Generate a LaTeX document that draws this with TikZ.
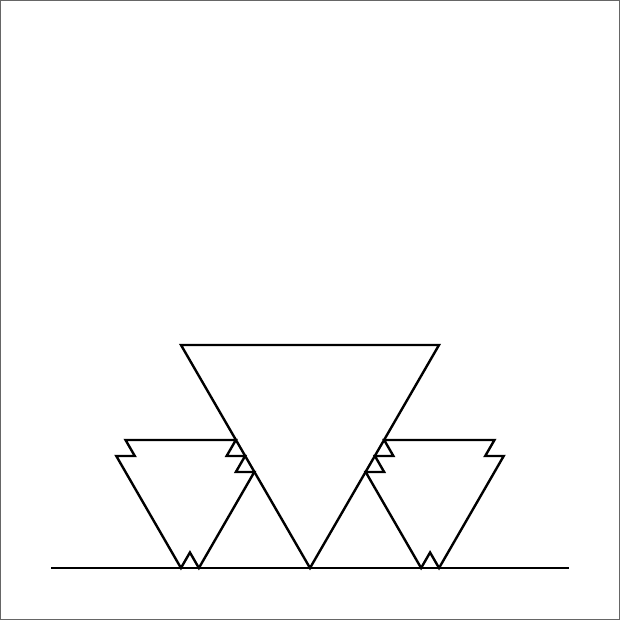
\documentclass[tikz,border=0pt]{standalone}
\begin{document}
\begin{tikzpicture}[x=1pt,y=-1pt,
  frame/.style={draw=black!60,line width=1pt},
  curve/.style={draw=black,line width=2.4pt,line join=miter,line cap=butt}]
\useasboundingbox (0,0) rectangle (620,620);
\draw[frame] (0.5,0.5) rectangle (619.5,619.5);
% base line
\coordinate (bl) at (51,568);
\coordinate (br) at (569,568);
\draw[curve] (bl) -- (br);
% big triangle
\coordinate (A) at (181,345);
\coordinate (B) at (439,345);
\coordinate (C) at (310,568);
\draw[curve] (A) -- (B) -- (C) -- cycle;
% left triangle with notches
\draw[curve] (235.85,440) -- (125.55,440) -- (134.8,456) -- (116.3,456)
  -- (180.96,568) -- (189.93,552.46) -- (198.89,568) -- (254.32,472)
  -- (235.85,472) -- (245.09,456) -- (226.61,456) -- cycle;
% right triangle (mirror)
\draw[curve] (384.15,440) -- (494.45,440) -- (485.2,456) -- (503.7,456)
  -- (439.04,568) -- (430.07,552.46) -- (421.11,568) -- (365.68,472)
  -- (384.15,472) -- (374.91,456) -- (393.39,456) -- cycle;
\end{tikzpicture}
\end{document}
